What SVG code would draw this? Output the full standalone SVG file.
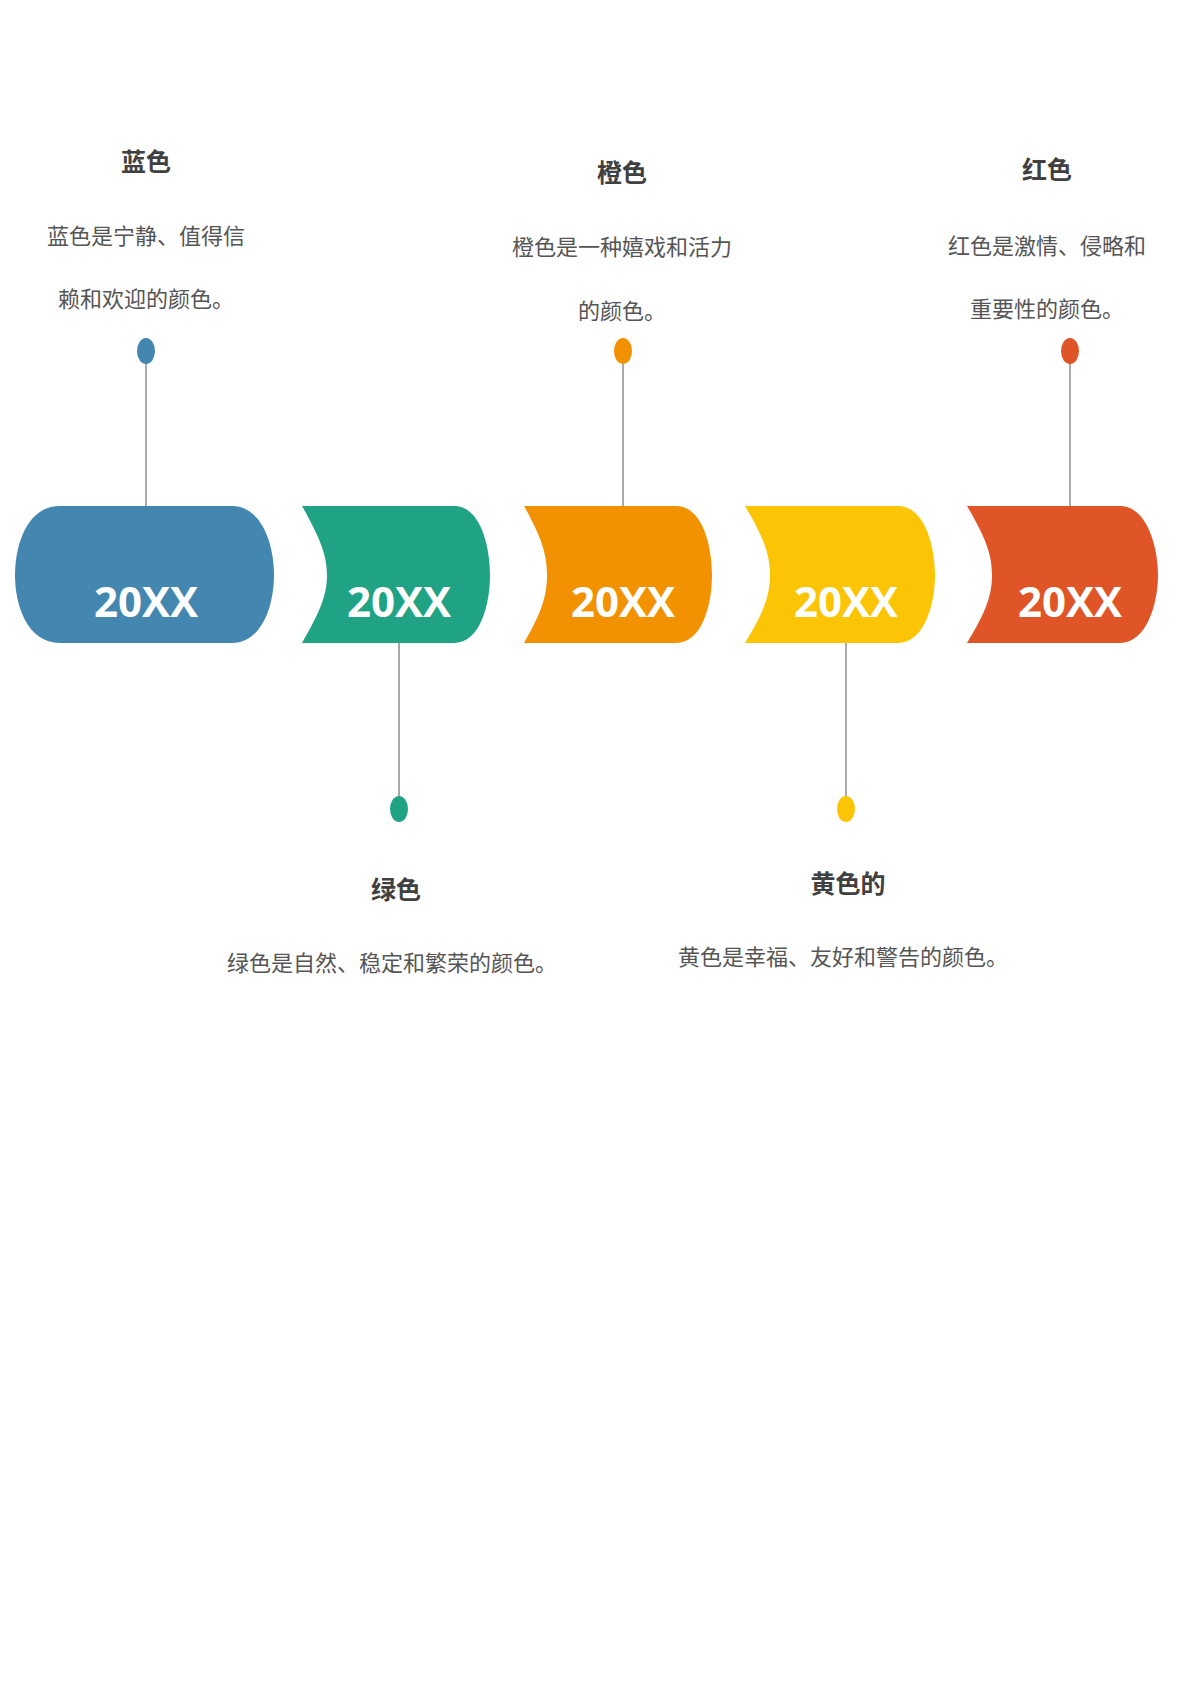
<svg xmlns="http://www.w3.org/2000/svg" width="1191" height="1684" viewBox="0 0 1191 1684">
<style>
.t{font-family:"Noto Sans CJK SC","Noto Sans",sans-serif;font-weight:bold;font-size:25px;fill:#404040;text-anchor:middle}
.b{font-family:"Noto Sans CJK SC","Noto Sans",sans-serif;font-size:22px;fill:#555;text-anchor:middle}
.y{font-family:"Open Sans","Noto Sans",sans-serif;font-weight:bold;font-size:42px;fill:#fff;text-anchor:middle}
.l{stroke:#555;stroke-width:1}
</style>
<rect width="1191" height="1684" fill="#fff"/>
<g id="connectors">
<line class="l" x1="146" y1="351" x2="146" y2="506"/>
<line class="l" x1="623" y1="351" x2="623" y2="506"/>
<line class="l" x1="1070" y1="351" x2="1070" y2="506"/>
<line class="l" x1="399" y1="643" x2="399" y2="809"/>
<line class="l" x1="846" y1="643" x2="846" y2="809"/>
</g>
<g id="blue">
<path d="M60,506 L232,506 C262,506 274,545 274,575 C274,605 262,643 232,643 L60,643 C27,643 15,605 15,575 C15,545 27,506 60,506 Z" fill="#4387B0"/>
<text class="y" x="146" y="617">20XX</text>
<ellipse cx="146" cy="351" rx="9" ry="13" fill="#4387B0"/>
<text class="t" x="146" y="171">蓝色</text>
<text class="b" x="146" y="244">蓝色是宁静、值得信</text>
<text class="b" x="146" y="307">赖和欢迎的颜色。</text>
</g>
<g id="green">
<path d="M302,506 L454,506 C480,506 490,545 490,575 C490,605 480,643 454,643 L302,643 C320,612 327,595 327,575 C327,555 320,538 302,506 Z" fill="#20A284"/>
<text class="y" x="399" y="617">20XX</text>
<ellipse cx="399" cy="809" rx="9" ry="13" fill="#20A284"/>
<text class="t" x="396" y="899">绿色</text>
<text class="b" x="392" y="971">绿色是自然、稳定和繁荣的颜色。</text>
</g>
<g id="orange">
<path d="M524,506 L676,506 C702,506 712,545 712,575 C712,605 702,643 676,643 L524,643 C542,612 547,595 547,575 C547,555 542,538 524,506 Z" fill="#F39200"/>
<text class="y" x="623" y="617">20XX</text>
<ellipse cx="623" cy="351" rx="9" ry="13" fill="#F39200"/>
<text class="t" x="622" y="182">橙色</text>
<text class="b" x="622" y="255">橙色是一种嬉戏和活力</text>
<text class="b" x="622" y="319">的颜色。</text>
</g>
<g id="yellow">
<path d="M745,506 L898,506 C924,506 935,545 935,575 C935,605 924,643 898,643 L745,643 C764,612 770,595 770,575 C770,555 764,538 745,506 Z" fill="#FBC405"/>
<text class="y" x="846" y="617">20XX</text>
<ellipse cx="846" cy="809" rx="9" ry="13" fill="#FBC405"/>
<text class="t" x="848" y="893">黄色的</text>
<text class="b" x="843" y="965">黄色是幸福、友好和警告的颜色。</text>
</g>
<g id="red">
<path d="M967,506 L1120,506 C1146,506 1158,545 1158,575 C1158,605 1146,643 1120,643 L967,643 C986,612 992,595 992,575 C992,555 986,538 967,506 Z" fill="#E05527"/>
<text class="y" x="1070" y="617">20XX</text>
<ellipse cx="1070" cy="351" rx="9" ry="13" fill="#E05527"/>
<text class="t" x="1047" y="179">红色</text>
<text class="b" x="1047" y="254">红色是激情、侵略和</text>
<text class="b" x="1047" y="317">重要性的颜色。</text>
</g>
</svg>
